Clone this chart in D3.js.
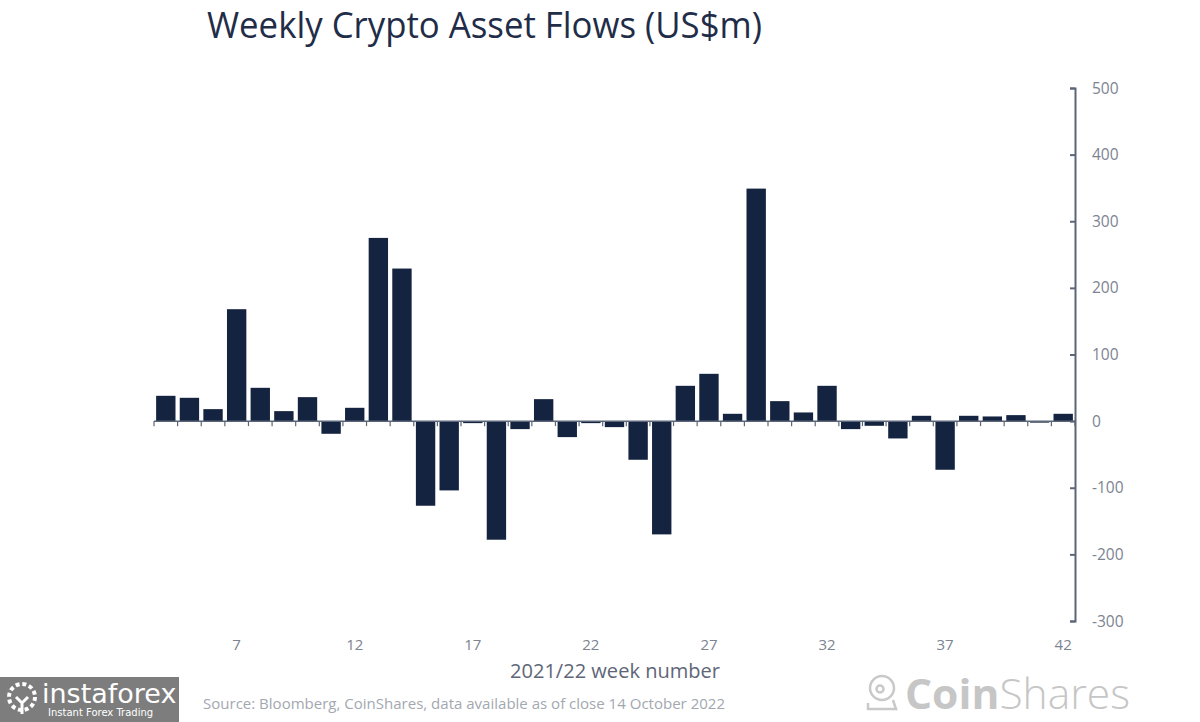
<!DOCTYPE html>
<html>
<head>
<meta charset="utf-8">
<script src="https://cdn.jsdelivr.net/npm/d3@7"></script>
<style>
  html, body { margin: 0; padding: 0; background: #ffffff; }
  svg { display: block; }
</style>
</head>
<body>
<svg id="chart" width="1200" height="722"></svg>
<script>
// ---- data ----
const weeks = [4,5,6,7,8,9,10,11,12,13,14,15,16,17,18,19,20,21,22,23,24,25,26,27,28,29,30,31,32,33,34,35,36,37,38,39,40,41,42];
const flows = [38,35,18,168,50,15,36,-19,20,275,229,-127,-104,-3,-178,-12,33,-24,-3,-9,-58,-170,53,71,11,349,30,13,53,-12,-7,-26,8,-73,8,7,9,-2,11];
const xTickWeeks = [7,12,17,22,27,32,37,42];
const yTicks = [-300,-200,-100,0,100,200,300,400,500];
const title = "Weekly Crypto Asset Flows (US$m)";
const xTitle = "2021/22 week number";
const source = "Source: Bloomberg, CoinShares, data available as of close 14 October 2022";

(function () {
const svg = d3.select("#chart");
const pLeft = 154, pRight = 1075, pTop = 88, pBottom = 621;
const barColor = "#14233f";
const axisColor = "#5b6678";
const labelColor = "#7c8391";
const font = "Open Sans, sans-serif";

const x = d3.scaleBand().domain(weeks).range([pLeft, pRight]).paddingInner(0.18).paddingOuter(0.09);
const y = d3.scaleLinear().domain([-300, 500]).range([pBottom, pTop]);

// title
svg.append("text").attr("x", 207).attr("y", 38)
  .attr("font-family", font).attr("font-size", 36)
  .attr("textLength", 555).attr("lengthAdjust", "spacingAndGlyphs")
  .attr("fill", "#1f2d48").text(title);

// bars
svg.append("g").selectAll("rect").data(weeks).join("rect")
  .attr("x", d => x(d))
  .attr("width", x.bandwidth())
  .attr("y", (d, i) => Math.min(y(flows[i]), y(0)))
  .attr("height", (d, i) => Math.max(1.5, Math.abs(y(flows[i]) - y(0))))
  .attr("fill", barColor);

// zero baseline with category boundary ticks
const boundaries = d3.range(weeks.length + 1).map(i => pLeft + i * x.step());
const bl = svg.append("g");
bl.append("line").attr("x1", pLeft).attr("x2", pRight).attr("y1", y(0)).attr("y2", y(0))
  .attr("stroke", axisColor).attr("stroke-width", 1.5);
bl.selectAll("line.t").data(boundaries).join("line").attr("class", "t")
  .attr("x1", d => d).attr("x2", d => d).attr("y1", y(0)).attr("y2", y(0) + 5)
  .attr("stroke", axisColor).attr("stroke-width", 1.2);

// x labels
svg.append("g").selectAll("text").data(xTickWeeks).join("text")
  .attr("x", d => x(d) + x.bandwidth() / 2).attr("y", 650)
  .attr("text-anchor", "middle")
  .attr("font-family", font).attr("font-size", 15)
  .attr("fill", labelColor).text(d => d);

svg.append("text").attr("x", 615).attr("y", 678).attr("text-anchor", "middle")
  .attr("font-family", font).attr("font-size", 20)
  .attr("textLength", 210).attr("lengthAdjust", "spacingAndGlyphs")
  .attr("fill", "#5e6677").text(xTitle);

// right y axis
const yAxis = d3.axisLeft(y).tickValues(yTicks).tickSize(5).tickFormat("");
const ga = svg.append("g").attr("transform", `translate(${pRight},0)`).call(yAxis);
ga.select(".domain").attr("stroke", axisColor).attr("stroke-width", 2);
ga.selectAll(".tick line").attr("stroke", axisColor).attr("stroke-width", 2);
svg.append("g").selectAll("text").data(yTicks).join("text")
  .attr("x", 1092).attr("y", d => y(d) + 5.5)
  .attr("font-family", font).attr("font-size", 15.5)
  .attr("fill", labelColor).text(d => d);

// source
svg.append("text").attr("x", 203).attr("y", 709)
  .attr("font-family", font).attr("font-size", 14.5)
  .attr("textLength", 522).attr("lengthAdjust", "spacingAndGlyphs")
  .attr("fill", "#a3a8b0").text(source);

// CoinShares logo
const logo = svg.append("g");
logo.append("circle").attr("cx", 882).attr("cy", 688).attr("r", 12).attr("fill", "none")
  .attr("stroke", "#c9c9c9").attr("stroke-width", 2.5);
logo.append("circle").attr("cx", 880).attr("cy", 689).attr("r", 3.5).attr("fill", "none")
  .attr("stroke", "#c9c9c9").attr("stroke-width", 2.5);
logo.append("path").attr("d", "M868 703 L868 709 L896 709 L893 700").attr("fill", "none")
  .attr("stroke", "#c9c9c9").attr("stroke-width", 2.5);
const lt = logo.append("text").attr("x", 905).attr("y", 709)
  .attr("font-family", font).attr("font-size", 42)
  .attr("textLength", 225).attr("lengthAdjust", "spacingAndGlyphs")
  .attr("fill", "#c6c6c6");
lt.append("tspan").attr("font-weight", 700).text("Coin");
lt.append("tspan").attr("font-weight", 300).text("Shares");

// instaforex watermark
const wm = svg.append("g");
wm.append("rect").attr("x", 0).attr("y", 677).attr("width", 179).attr("height", 45).attr("fill", "#7d7d7d");
wm.append("circle").attr("cx", 22).attr("cy", 697).attr("r", 13).attr("fill", "none")
  .attr("stroke", "#ffffff").attr("stroke-width", 4).attr("stroke-dasharray", "4 2.8");
wm.append("path").attr("d", "M16 697 L22 703 L28 697 M22 703 L22 714").attr("fill", "none")
  .attr("stroke", "#ffffff").attr("stroke-width", 3);
wm.append("text").attr("x", 42).attr("y", 703)
  .attr("font-family", "DejaVu Sans, sans-serif").attr("font-size", 27).attr("fill", "#ffffff").text("instaforex");
wm.append("text").attr("x", 48).attr("y", 716)
  .attr("font-family", "DejaVu Sans, sans-serif").attr("font-size", 10).attr("fill", "#ffffff").text("Instant Forex Trading");
})();
</script>
</body>
</html>
